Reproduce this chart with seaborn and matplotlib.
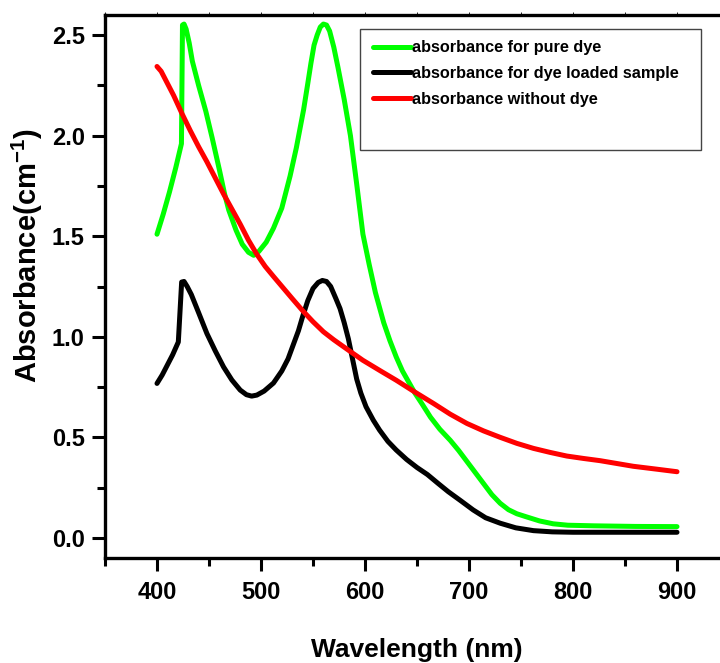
#!/usr/bin/env python
import matplotlib
matplotlib.use("Agg")
import matplotlib.pyplot as plt
import matplotlib.patches as mpatches
from matplotlib.ticker import MultipleLocator
import pandas as pd
import seaborn as sns

# values
pure_wl = [400, 406, 412, 418, 423.5, 424.5, 426, 428, 431, 434, 440, 447, 453,
           460, 465, 469, 476, 482, 488, 493, 498, 505, 512, 520, 528, 534, 541,
           545, 548, 551, 554, 557, 560, 563, 566, 570, 574, 580, 586, 592, 598,
           604, 610, 618, 624, 630, 636, 642, 648, 655, 663, 672, 682, 690, 698,
           706, 714, 722, 730, 738, 746, 755, 768, 781, 795, 820, 860, 900]
pure_abs = [1.51, 1.61, 1.72, 1.84, 1.96, 2.55, 2.555, 2.53, 2.46, 2.37, 2.25, 2.12,
            1.99, 1.83, 1.71, 1.63, 1.53, 1.46, 1.42, 1.405, 1.425, 1.47, 1.54, 1.64,
            1.80, 1.94, 2.13, 2.26, 2.36, 2.45, 2.50, 2.54, 2.555, 2.55, 2.52, 2.44,
            2.34, 2.18, 2.00, 1.76, 1.51, 1.36, 1.22, 1.07, 0.98, 0.90, 0.83, 0.775,
            0.72, 0.665, 0.60, 0.54, 0.485, 0.435, 0.38, 0.325, 0.27, 0.215, 0.172,
            0.14, 0.12, 0.105, 0.084, 0.07, 0.063, 0.06, 0.057, 0.056]

loaded_wl = [400, 405, 410, 415, 420.5, 423.7, 426, 429, 433, 440, 448, 456, 464,
             472, 480, 486, 491, 496, 503, 512, 520, 526, 531, 536, 540, 545, 550,
             555, 559, 563, 567, 572, 576, 580, 584, 588, 592, 596, 601, 608, 614,
             622, 630, 640, 650, 660, 670, 680, 692, 704, 716, 730, 745, 762, 780,
             800, 850, 900]
loaded_abs = [0.768, 0.81, 0.86, 0.91, 0.974, 1.272, 1.275, 1.25, 1.21, 1.12, 1.016,
              0.93, 0.85, 0.785, 0.735, 0.712, 0.705, 0.71, 0.73, 0.77, 0.83, 0.89,
              0.96, 1.03, 1.10, 1.18, 1.24, 1.27, 1.28, 1.275, 1.25, 1.19, 1.14, 1.07,
              0.99, 0.89, 0.79, 0.72, 0.652, 0.585, 0.536, 0.48, 0.437, 0.39, 0.35,
              0.315, 0.272, 0.23, 0.185, 0.139, 0.10, 0.073, 0.05, 0.036, 0.03, 0.028,
              0.028, 0.028]

nodye_wl = [400, 404, 408, 412, 416, 424, 432, 440, 448, 456, 464, 472, 480, 488,
            496, 504, 512, 521, 530, 540, 550, 560, 570, 585, 598, 615, 630, 648,
            666, 682, 698, 714, 730, 746, 762, 778, 794, 810, 826, 842, 858, 880, 900]
nodye_abs = [2.344, 2.32, 2.28, 2.24, 2.20, 2.11, 2.025, 1.945, 1.87, 1.79, 1.71,
             1.635, 1.56, 1.48, 1.41, 1.35, 1.30, 1.245, 1.19, 1.13, 1.075, 1.025,
             0.985, 0.93, 0.883, 0.83, 0.784, 0.725, 0.668, 0.615, 0.569, 0.532,
             0.50, 0.47, 0.445, 0.425, 0.407, 0.395, 0.384, 0.37, 0.356, 0.342, 0.329]

labels = ["absorbance for pure dye", "absorbance for dye loaded sample",
          "absorbance without dye"]
colors = ["#00ff00", "#000000", "#ff0000"]


def start():
    sns.set_style("ticks")
    plt.rcParams["font.family"] = ["Liberation Sans", "DejaVu Sans"]
    plt.rcParams["font.weight"] = "bold"
    plt.rcParams["text.color"] = "black"
    plt.rcParams["axes.edgecolor"] = "black"
    plt.rcParams["axes.labelcolor"] = "black"
    plt.rcParams["xtick.color"] = "black"
    plt.rcParams["ytick.color"] = "black"
    plt.rcParams["mathtext.fontset"] = "custom"
    plt.rcParams["mathtext.rm"] = "Liberation Sans:bold"
    plt.rcParams["mathtext.bf"] = "Liberation Sans:bold"
    plt.rcParams["mathtext.default"] = "bf"

    fig = plt.figure(figsize=(7.2, 6.63), dpi=100)
    ax = fig.add_axes([105 / 720, 1 - 558 / 663, 624 / 720, 543 / 663])

    series = [(pure_wl, pure_abs), (loaded_wl, loaded_abs), (nodye_wl, nodye_abs)]
    for (wl, ab), lab, col in zip(series, labels, colors):
        df = pd.DataFrame({"wl": wl, "abs": ab})
        sns.lineplot(data=df, x="wl", y="abs", ax=ax, color=col, lw=3.6,
                     label=lab, sort=False, estimator=None,
                     solid_capstyle="round", solid_joinstyle="round")

    ax.set_xlim(350, 950)
    ax.set_ylim(-0.1, 2.6)
    ax.xaxis.set_major_locator(MultipleLocator(100))
    ax.xaxis.set_minor_locator(MultipleLocator(50))
    ax.yaxis.set_major_locator(MultipleLocator(0.5))
    ax.yaxis.set_minor_locator(MultipleLocator(0.25))

    for sp in ax.spines.values():
        sp.set_linewidth(2.4)
        sp.set_color("black")
    ax.tick_params(which="major", direction="out", length=9.5, width=2.2,
                   labelsize=17, pad=5, colors="black")
    ax.tick_params(which="minor", direction="out", length=5.5, width=2.2,
                   colors="black")
    ax.tick_params(axis="x", which="major", pad=7)
    ax.tick_params(axis="x", which="both", top=True, labeltop=False)
    for t in ax.xaxis.get_ticklines(minor=False)[1::2] + ax.xaxis.get_ticklines(minor=True)[1::2]:
        t.set_markersize(2.5)
        t.set_markeredgewidth(0.6)
        t.set_color("#999999")
    for lbl in ax.get_xticklabels() + ax.get_yticklabels():
        lbl.set_fontweight("bold")

    ax.set_xlabel("Wavelength (nm)", fontsize=19, fontweight="bold")
    ax.xaxis.set_label_coords(0.5, -(650 - 558) / 543)
    ax.xaxis.label.set_va("center")
    ax.set_ylabel("Absorbance(cm$^{-1}$)", fontsize=21, fontweight="bold")
    ax.yaxis.set_label_coords((45 - 105) / 624, (558 - 256) / 543)

    # legend with the plain open box like the original
    leg = ax.legend(loc="upper left", bbox_to_anchor=(362 / 720, 1 - 29 / 663),
                    bbox_transform=fig.transFigure, frameon=False,
                    prop={"size": 11.7, "weight": "bold"}, handlelength=2.3,
                    handletextpad=0.1, labelspacing=0.66, borderpad=0.2)
    for h in leg.get_lines():
        h.set_linewidth(3.6)
    fig.patches.append(mpatches.Rectangle((360 / 720, 1 - 150 / 663), 341 / 720,
                                          121 / 663, transform=fig.transFigure,
                                          fill=False, ec="#444444", lw=1.0))

    plt.savefig("out.png", dpi=100)
    plt.clf()


if __name__ == "__main__":
    start()
